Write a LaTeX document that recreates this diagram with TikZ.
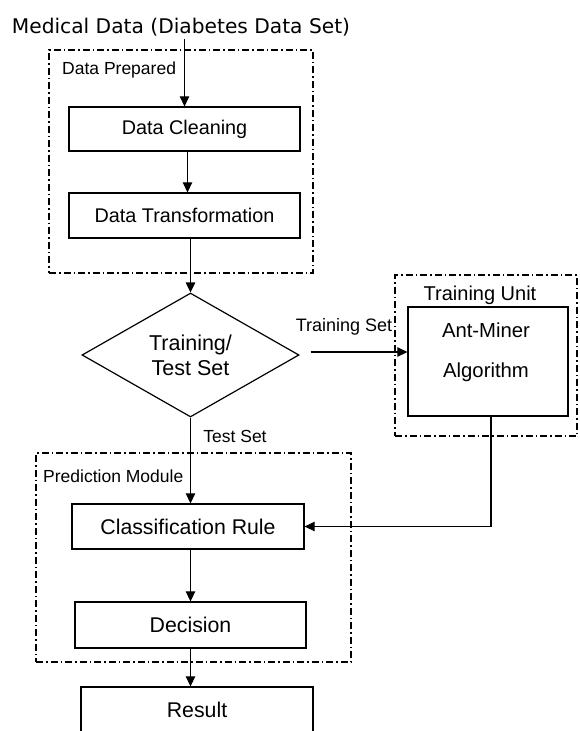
\documentclass[tikz,border=0pt]{standalone}
\usepackage{fontspec}
\setmainfont{Liberation Sans}
\newfontfamily\titlefont{DejaVu Sans}
\usetikzlibrary{shapes.geometric,arrows.meta}
\begin{document}
\begin{tikzpicture}[x=1pt,y=-1pt,
  box/.style={draw, line width=1.3pt, rectangle, inner sep=0pt},
  grp/.style={draw, line width=1.2pt, rectangle, inner sep=0pt, dash pattern=on 7pt off 3pt on 1.5pt off 3pt},
  arr/.style={line width=1.2pt, -{Triangle[length=10pt,width=9.5pt]}},
  lbl/.style={inner sep=0pt, font=\fontsize{17.5}{20}\selectfont},
  upper/.style={font=\fontsize{19.8}{22}\selectfont},
  lower/.style={font=\fontsize{21.3}{24}\selectfont}
]
\useasboundingbox (0,0) rectangle (579,731);
\clip (0,0) rectangle (579,731);
% groups
\node[grp, minimum width=264pt, minimum height=223pt] (dp) at (181,161.5) {};
\node[grp, minimum width=182pt, minimum height=161pt] (tu) at (486,355.5) {};
\node[grp, minimum width=315pt, minimum height=209pt] (pm) at (193.5,557.5) {};
\node[lbl, anchor=west] (dpl) at (62,69.5) {Data Prepared};
\node[inner sep=0pt, font=\fontsize{20}{22}\selectfont] (tul) at (480,295) {Training Unit};
\node[lbl, anchor=west] (pml) at (43,476) {Prediction Module};
% title
\node[inner sep=0pt, anchor=base, font=\titlefont\fontsize{20.2}{24}\selectfont] (title) at (181,33) {Medical Data (Diabetes Data Set)};
% boxes
\node[box, upper, minimum width=231pt, minimum height=44pt] (dc) at (184.5,129) {Data Cleaning};
\node[box, upper, minimum width=231pt, minimum height=45pt] (dt) at (184.5,215.5) {Data Transformation};
\node[diamond, draw, line width=1.2pt, minimum width=217pt, minimum height=124pt, aspect=1.75, inner sep=0pt, align=center, font=\fontsize{21.5}{25}\selectfont] (tt) at (190.5,355) {Training/\\Test Set};
\node[box, minimum width=160pt, minimum height=109pt] (am) at (488,361.5) {};
\node[inner sep=0pt, font=\fontsize{20.3}{22}\selectfont] (am1) at (486,330) {Ant-Miner};
\node[inner sep=0pt, font=\fontsize{20.3}{22}\selectfont] (am2) at (486,372) {Algorithm};
\node[box, lower, minimum width=232pt, minimum height=45pt] (cr) at (188,526.5) {Classification Rule};
\node[box, lower, minimum width=231pt, minimum height=46pt] (dec) at (190.5,625) {Decision};
\node[box, lower, minimum width=232pt, minimum height=46pt] (res) at (197,710) {Result};
% labels
\node[inner sep=0pt, font=\fontsize{18}{20}\selectfont] (tsl) at (344,327) {Training Set};
\node[lbl] (tesl) at (235,436) {Test Set};
% arrows
\draw[arr] ([yshift=-3pt]dc.north |- title.south) -- (dc.north);
\draw[arr] ([xshift=3pt]dc.south) -- ([xshift=3pt]dt.north);
\draw[arr] (dt.south -| tt.north) -- (tt.north);
\draw[arr] ([shift={(11,-3)}]tt.east) -- (am.west |- 0,352);
\draw[arr] (tt.south) -- (tt.south |- cr.north);
\draw[arr] (cr.south -| dec.north) -- (dec.north);
\draw[arr] (dec.south) -- (dec.south |- res.north);
\draw[arr] ([xshift=3pt]am.south) |- (cr.east);
\end{tikzpicture}
\end{document}
